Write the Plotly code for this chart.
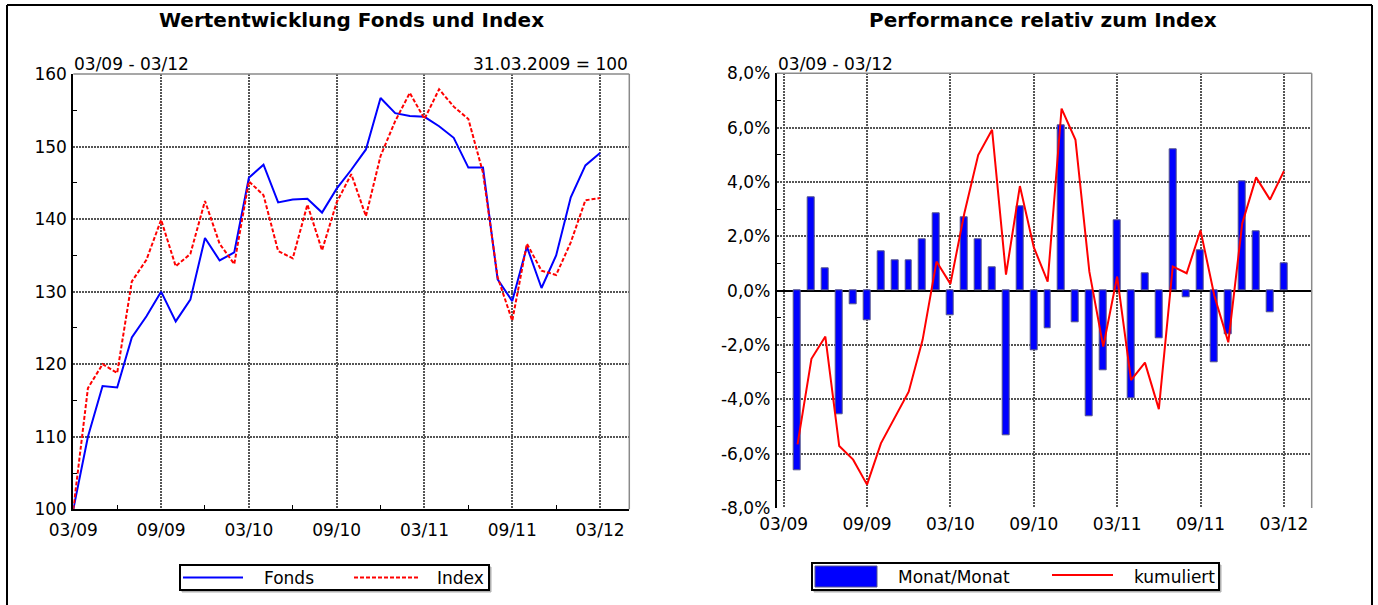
import plotly.graph_objects as go

# ---------------- data ----------------
period_labels = ["03/09", "09/09", "03/10", "09/10", "03/11", "09/11", "03/12"]

fonds = [100.0, 110.0, 117.0, 116.8, 123.7, 126.6, 130.0, 125.9, 128.9, 137.4,
         134.3, 135.4, 145.7, 147.5, 142.3, 142.7, 142.8, 140.9, 144.2, 146.8,
         149.6, 156.7, 154.6, 154.2, 154.1, 152.8, 151.2, 147.1, 147.1, 131.7,
         128.7, 136.2, 130.5, 135.0, 143.0, 147.4, 149.1]

index_vals = [100.0, 116.7, 120.0, 118.8, 131.4, 134.4, 139.9, 133.5, 135.2, 142.5,
              136.6, 133.8, 145.2, 143.3, 135.6, 134.6, 142.0, 135.7, 142.3, 146.2,
              140.4, 148.7, 153.5, 157.4, 153.8, 157.9, 155.5, 153.8, 146.4, 132.0,
              126.0, 136.6, 132.9, 132.3, 136.8, 142.6, 142.9]

monat_monat = [-6.61, 3.44, 0.84, -4.55, -0.49, -1.10, 1.45, 1.12, 1.10, 1.90,
               2.84, -0.91, 2.69, 1.89, 0.86, -5.33, 3.11, -2.20, -1.37, 6.10,
               -1.17, -4.63, -2.92, 2.60, -3.95, 0.65, -1.74, 5.22, -0.25, 1.50,
               -2.63, -1.62, 4.01, 2.17, -0.80, 1.00]

kumuliert = [-5.66, -2.51, -1.69, -5.72, -6.22, -7.14, -5.62, -4.66, -3.72, -1.81,
             1.07, 0.25, 2.84, 4.99, 5.92, 0.59, 3.85, 1.60, 0.33, 6.70,
             5.55, 0.70, -2.06, 0.52, -3.29, -2.65, -4.36, 0.89, 0.64, 2.22,
             -0.20, -1.90, 2.47, 4.17, 3.35, 4.40]

left_yticks = [100, 110, 120, 130, 140, 150, 160]
right_yticks = [-8, -6, -4, -2, 0, 2, 4, 6, 8]

# ---------------- helpers ----------------
W, H = 1378, 605
FONT = "DejaVu Sans"


def px(x):
    return x / W


def py(y):
    return 1 - y / H


months_left = list(range(len(fonds)))
months_right = list(range(1, len(monat_monat) + 1))
tickpos = [6 * i for i in range(len(period_labels))]
minor_x = [t + 3 for t in tickpos[:-1]]

GRID = dict(showgrid=True, gridcolor="#555555", gridwidth=2, griddash="2px,1px",
            automargin=False)
TICKFONT = dict(family=FONT, size=17, color="black")

fig = go.Figure()
fig.add_trace(go.Scatter(x=months_left, y=fonds, mode="lines", name="Fonds",
                         line=dict(color="#0000ff", width=2),
                         xaxis="x", yaxis="y", showlegend=False))
fig.add_trace(go.Scatter(x=months_left, y=index_vals, mode="lines", name="Index",
                         line=dict(color="#ff0000", width=2, dash="4px,2px"),
                         xaxis="x", yaxis="y", showlegend=False))
fig.add_trace(go.Bar(x=months_right, y=monat_monat, name="Monat/Monat", width=0.5,
                     marker=dict(color="#0000ff", line=dict(color="#55558a", width=1)),
                     xaxis="x2", yaxis="y2", showlegend=False))
fig.add_trace(go.Scatter(x=months_right, y=kumuliert, mode="lines", name="kumuliert",
                         line=dict(color="#ff0000", width=2),
                         xaxis="x2", yaxis="y2", showlegend=False))

fig.update_layout(
    template="none",
    width=W, height=H,
    margin=dict(l=0, r=0, t=0, b=0, pad=0, autoexpand=False),
    paper_bgcolor="white", plot_bgcolor="white",
    font=dict(family=FONT, size=17, color="black"),
    showlegend=False,
    bargap=0,
    xaxis=dict(domain=[px(73.3), px(629.3)], range=[0, 38], anchor="y",
               tickmode="array", tickvals=tickpos, ticktext=period_labels,
               showline=True, linecolor="black", linewidth=2, ticks="",
               tickfont=TICKFONT, zeroline=False, ticklabelstandoff=4,
               minor=dict(tickvals=minor_x, ticks="inside", ticklen=4,
                          tickcolor="black", tickwidth=1, showgrid=False),
               **GRID),
    yaxis=dict(domain=[py(509.3), py(74)], range=[100, 160], anchor="x",
               tickmode="array", tickvals=left_yticks,
               ticktext=[str(v) for v in left_yticks],
               showline=True, linecolor="black", linewidth=2, ticks="",
               tickfont=TICKFONT, zeroline=False, ticklabelstandoff=1,
               minor=dict(tickvals=[v + 5 for v in left_yticks[:-1]], ticks="inside",
                          ticklen=4, tickcolor="black", tickwidth=1, showgrid=False),
               **GRID),
    xaxis2=dict(domain=[px(776.7), px(1311.7)], range=[-0.5, 38], anchor="y2",
                tickmode="array", tickvals=tickpos, ticktext=period_labels,
                showline=False, ticks="", tickfont=TICKFONT, zeroline=False,
                ticklabelstandoff=4,
                **GRID),
    yaxis2=dict(domain=[py(508), py(73.3)], range=[-8, 8], anchor="x2",
                tickmode="array", tickvals=right_yticks,
                ticktext=[f"{v:.1f}%".replace(".", ",") for v in right_yticks],
                showline=True, linecolor="black", linewidth=2, ticks="",
                tickfont=TICKFONT, ticklabelstandoff=1,
                zeroline=True, zerolinecolor="black", zerolinewidth=2,
                minor=dict(tickvals=[v + 1 for v in right_yticks[:-1]], ticks="inside",
                           ticklen=4, tickcolor="black", tickwidth=1, showgrid=False),
                **GRID),
)

shapes = []
# top / right plot borders (gray)
for xr, yr in (("x domain", "y domain"), ("x2 domain", "y2 domain")):
    shapes.append(dict(type="line", xref=xr, yref=yr, x0=0, x1=1, y0=1, y1=1,
                       line=dict(color="#8a8a8a", width=1.5)))
    shapes.append(dict(type="line", xref=xr, yref=yr, x0=1, x1=1, y0=0, y1=1,
                       line=dict(color="#8a8a8a", width=1.5)))

# outer frame
frame = dict(color="black", width=2)
shapes.append(dict(type="line", xref="paper", yref="paper", x0=px(7), x1=px(1372),
                   y0=py(5), y1=py(5), line=frame))
shapes.append(dict(type="line", xref="paper", yref="paper", x0=px(7), x1=px(7),
                   y0=py(5), y1=0, line=frame))
shapes.append(dict(type="line", xref="paper", yref="paper", x0=px(1372), x1=px(1372),
                   y0=py(5), y1=0, line=frame))

# legend boxes
for (x0, y0, x1, y1) in ((180, 565, 489, 590), (812, 563, 1219, 590)):
    shapes.append(dict(type="rect", xref="paper", yref="paper",
                       x0=px(x0 + 2), x1=px(x1 + 2), y0=py(y1 + 2), y1=py(y0 + 2),
                       line=dict(color="#b0b0b0", width=1), fillcolor="#b0b0b0"))
    shapes.append(dict(type="rect", xref="paper", yref="paper",
                       x0=px(x0), x1=px(x1), y0=py(y1), y1=py(y0),
                       line=dict(color="black", width=2), fillcolor="white"))
# legend symbols
shapes.append(dict(type="line", xref="paper", yref="paper", x0=px(183), x1=px(243),
                   y0=py(577.5), y1=py(577.5), line=dict(color="#0000ff", width=2)))
shapes.append(dict(type="line", xref="paper", yref="paper", x0=px(354), x1=px(418),
                   y0=py(577.5), y1=py(577.5),
                   line=dict(color="#ff0000", width=2, dash="4px,2px")))
shapes.append(dict(type="rect", xref="paper", yref="paper", x0=px(815), x1=px(877),
                   y0=py(587), y1=py(566),
                   line=dict(color="#55558a", width=1), fillcolor="#0000ff"))
shapes.append(dict(type="line", xref="paper", yref="paper", x0=px(1052), x1=px(1113),
                   y0=py(575), y1=py(575), line=dict(color="#ff0000", width=2)))

fig.update_layout(shapes=shapes)

ann = []


def text(x, y, s, anchor="left", size=17, bold=False):
    ann.append(dict(x=px(x), y=py(y), xref="paper", yref="paper",
                    text=f"<b>{s}</b>" if bold else s,
                    showarrow=False, xanchor=anchor, yanchor="middle",
                    font=dict(family=FONT, size=size, color="black")))


text(351, 20, "Wertentwicklung Fonds und Index", "center", 20, True)
text(1043, 20, "Performance relativ zum Index", "center", 20, True)
text(72, 64, "03/09 - 03/12", "left", 17)
text(630, 64, "31.03.2009 = 100", "right", 17)
text(776, 64, "03/09 - 03/12", "left", 17)
text(262, 578, "Fonds", "left", 17)
text(435, 578, "Index", "left", 17)
text(896, 577, "Monat/Monat", "left", 17)
text(1132, 577, "kumuliert", "left", 17)

fig.update_layout(annotations=ann)

fig.write_html("out.html",
               config={"displayModeBar": False},
               post_script="document.body.style.margin='0px';document.body.style.overflow='hidden';")
